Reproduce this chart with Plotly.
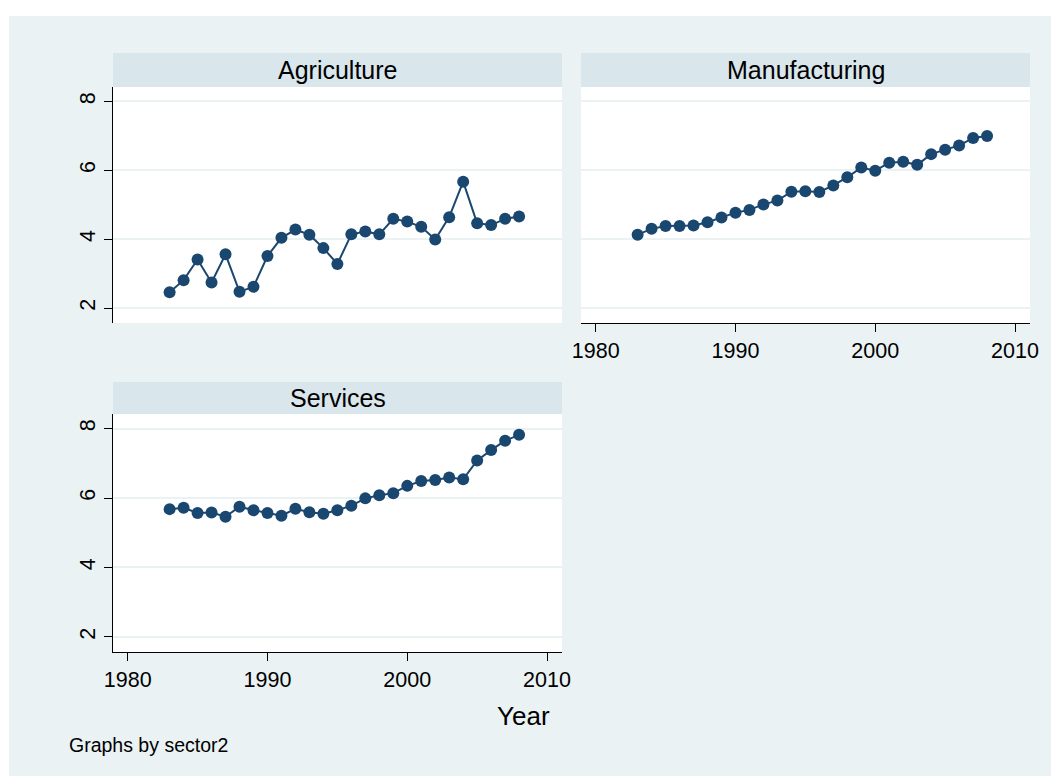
import plotly.graph_objects as go

W, H = 1051, 776

years = list(range(1983, 2009))
agriculture = [2.46, 2.81, 3.41, 2.74, 3.56, 2.47, 2.62, 3.51, 4.04, 4.28, 4.13, 3.74, 3.28,
               4.14, 4.22, 4.14, 4.59, 4.51, 4.36, 3.99, 4.64, 5.67, 4.46, 4.41, 4.59, 4.66]
manufacturing = [4.13, 4.30, 4.38, 4.38, 4.40, 4.49, 4.63, 4.77, 4.85, 5.01, 5.12, 5.38, 5.39,
                 5.37, 5.56, 5.80, 6.08, 5.99, 6.22, 6.25, 6.16, 6.47, 6.60, 6.72, 6.94, 7.00]
services = [5.68, 5.72, 5.57, 5.58, 5.46, 5.75, 5.65, 5.57, 5.49, 5.69, 5.59, 5.55, 5.65,
            5.78, 5.99, 6.08, 6.14, 6.35, 6.49, 6.52, 6.59, 6.54, 7.08, 7.38, 7.65, 7.82]
panel_titles = ["Agriculture", "Manufacturing", "Services"]
x_ticks = [1980, 1990, 2000, 2010]
y_ticks = [2, 4, 6, 8]

NAVY = "#1A476F"
BG = "#EAF2F3"
STRIP = "#D9E6EB"
FONT = "Liberation Sans, Arial, sans-serif"

def px_x(p):
    return p / W

def px_y(p):
    return 1 - p / H

# panel boxes in pixels: (x0, x1, y_top, y_bottom)
panels = [(113, 562, 87, 323), (581, 1030, 87, 323), (113, 562, 414, 652)]
strips = [(113, 562, 53, 87), (581, 1030, 53, 87), (113, 562, 382, 414)]

fig = go.Figure()
series = [agriculture, manufacturing, services]
for i, vals in enumerate(series):
    sfx = "" if i == 0 else str(i + 1)
    fig.add_trace(go.Scatter(
        x=years, y=vals, mode="lines+markers",
        line=dict(color=NAVY, width=2),
        marker=dict(color=NAVY, size=12),
        xaxis="x" + sfx, yaxis="y" + sfx, showlegend=False,
    ))

xr = [1978.95, 2011.07]
yr = [1.565, 8.42]

layout = dict(
    width=W, height=H, autosize=False,
    margin=dict(l=0, r=0, t=0, b=0, autoexpand=False),
    paper_bgcolor=BG,
    plot_bgcolor="white",
    font=dict(family=FONT, color="black", size=21),
)

for i, (x0, x1, yt, yb) in enumerate(panels):
    sfx = "" if i == 0 else str(i + 1)
    show_x = i != 0
    show_y = i != 1
    layout["xaxis" + sfx] = dict(
        domain=[px_x(x0), px_x(x1)], range=xr, anchor="y" + sfx,
        tickvals=x_ticks if show_x else [], showticklabels=show_x,
        ticks="outside" if show_x else "", ticklen=8, tickcolor="black",
        showline=show_x, linecolor="black", linewidth=1,
        showgrid=False, zeroline=False, automargin=False,
        tickfont=dict(size=21.5, family=FONT),
    )
    layout["yaxis" + sfx] = dict(
        domain=[px_y(yb), px_y(yt)], range=yr, anchor="x" + sfx,
        tickvals=y_ticks, showticklabels=show_y,
        ticks="outside" if show_y else "", ticklen=8, tickcolor="black",
        tickangle=-90,
        showline=show_y, linecolor="black", linewidth=1,
        showgrid=True, gridcolor=BG, gridwidth=2, zeroline=False, automargin=False,
        tickfont=dict(size=21.5, family=FONT),
    )

# white outer border on the top and left, as in the reference
shapes = [
    dict(type="rect", xref="paper", yref="paper", x0=-0.01, x1=px_x(9), y0=-0.01, y1=1.01,
         fillcolor="white", line=dict(width=0), layer="below"),
    dict(type="rect", xref="paper", yref="paper", x0=-0.01, x1=1.01, y0=px_y(16), y1=1.01,
         fillcolor="white", line=dict(width=0), layer="below"),
]
annotations = []
for (x0, x1, yt, yb), title in zip(strips, panel_titles):
    shapes.append(dict(type="rect", xref="paper", yref="paper", x0=px_x(x0), x1=px_x(x1),
                       y0=px_y(yb), y1=px_y(yt), fillcolor=STRIP, line=dict(width=0), layer="below"))
    annotations.append(dict(text=title, xref="paper", yref="paper", x=px_x((x0 + x1) / 2),
                            y=px_y((yt + yb) / 2), showarrow=False, xanchor="center", yanchor="middle",
                            font=dict(size=25, family=FONT, color="black")))

annotations.append(dict(text="Year", xref="paper", yref="paper", x=px_x(552), y=px_y(716),
                        showarrow=False, xanchor="right", yanchor="middle",
                        font=dict(size=26, family=FONT, color="black")))
annotations.append(dict(text="Graphs by sector2", xref="paper", yref="paper", x=px_x(67), y=px_y(745),
                        showarrow=False, xanchor="left", yanchor="middle",
                        font=dict(size=19.5, family=FONT, color="black")))

layout["shapes"] = shapes
layout["annotations"] = annotations
fig.update_layout(**layout)
fig.write_html(
    "out.html",
    config={"responsive": False},
    post_script=(
        "document.documentElement.style.overflow='hidden';"
        "document.body.style.overflow='hidden';"
        "document.body.style.margin='0';"
        "document.documentElement.style.background='" + BG + "';"
    ),
)
